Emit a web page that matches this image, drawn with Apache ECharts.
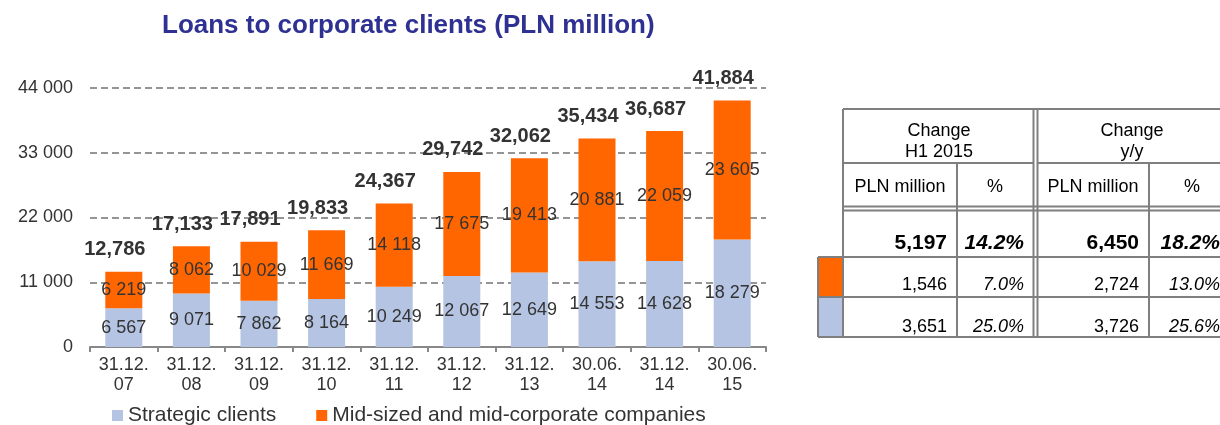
<!doctype html>
<html>
<head>
<meta charset="UTF-8">
<title>Loans to corporate clients</title>
<script src="https://cdn.jsdelivr.net/npm/echarts@6/dist/echarts.min.js"></script>
<style>
  html, body { margin: 0; padding: 0; background: #fff; overflow: hidden; }
  #chart { width: 1220px; height: 425px; }
</style>
</head>
<body>
<div id="chart"></div>
<script>
// chart data
var categories = ['31.12.\n07', '31.12.\n08', '31.12.\n09', '31.12.\n10', '31.12.\n11',
                  '31.12.\n12', '31.12.\n13', '30.06.\n14', '31.12.\n14', '30.06.\n15'];
var strategic = [6567, 9071, 7862, 8164, 10249, 12067, 12649, 14553, 14628, 18279];
var midCorp = [6219, 8062, 10029, 11669, 14118, 17675, 19413, 20881, 22059, 23605];
var totals = [12786, 17133, 17891, 19833, 24367, 29742, 32062, 35434, 36687, 41884];
var yTicks = [0, 11000, 22000, 33000, 44000];
var seriesNames = ['Strategic clients', 'Mid-sized and mid-corporate companies'];

// side table
var tableHead1 = ['Change\nH1 2015', 'Change\ny/y'];
var tableHead2 = ['PLN million', '%', 'PLN million', '%'];
var rowTotal = ['5,197', '14.2%', '6,450', '18.2%'];
var rowMid = ['1,546', '7.0%', '2,724', '13.0%'];
var rowStrategic = ['3,651', '25.0%', '3,726', '25.6%'];

var FONT = '"Liberation Sans", Arial, sans-serif';
var BLUE = '#b4c4e2';
var ORANGE = '#ff6600';
var GRID_LINE = '#7f7f7f';

function spaced(v) {
	return String(v).replace(/\B(?=(\d{3})+(?!\d))/g, ' ');
}
function commas(v) {
	return String(v).replace(/\B(?=(\d{3})+(?!\d))/g, ',');
}

// table layout
var colX = [843, 957, 1034, 1037, 1149, 1232]; // borders
var rowY = [109, 163, 207, 210, 257, 297, 337];
var valueRight = [947, 1024, 1139, 1220];

var g = [];
function hline(x1, x2, y) {
	g.push({ type: 'line', shape: { x1: x1, y1: y, x2: x2, y2: y }, style: { stroke: GRID_LINE, lineWidth: 2 } });
}
function vline(x, y1, y2) {
	g.push({ type: 'line', shape: { x1: x, y1: y1, x2: x, y2: y2 }, style: { stroke: GRID_LINE, lineWidth: 2 } });
}
function txt(x, y, s, align, size, weight, italic) {
	g.push({
		type: 'text', x: x, y: y,
		style: {
			text: s, fill: '#000', font: (italic ? 'italic ' : '') + (weight || 'normal') + ' ' + size + 'px ' + FONT,
			align: align, verticalAlign: 'middle', lineHeight: 21
		}
	});
}

// colour patches
g.push({ type: 'rect', shape: { x: 818, y: 257, width: 25, height: 40 }, style: { fill: ORANGE } });
g.push({ type: 'rect', shape: { x: 818, y: 297, width: 25, height: 40 }, style: { fill: BLUE } });

hline(843, 1232, 109);
hline(843, 1034, 163);
hline(1037, 1232, 163);
hline(843, 1232, 206.5);
hline(843, 1232, 210.5);
hline(818, 1232, 257);
hline(818, 1232, 297);
hline(818, 1232, 337);
vline(843, 109, 337);
vline(1033.5, 109, 337);
vline(1037.5, 109, 337);
vline(957, 163, 337);
vline(1149, 163, 337);
vline(818, 257, 337);

txt(939, 142, tableHead1[0], 'center', 18);
txt(1132, 142, tableHead1[1], 'center', 18);
txt(900, 187, tableHead2[0], 'center', 18);
txt(995, 187, tableHead2[1], 'center', 18);
txt(1093, 187, tableHead2[2], 'center', 18);
txt(1192, 187, tableHead2[3], 'center', 18);
for (var i = 0; i < 4; i++) {
	var pct = i % 2 === 1;
	txt(valueRight[i], 243, rowTotal[i], 'right', 21, 'bold', pct);
	txt(valueRight[i], 285, rowMid[i], 'right', 18, 'normal', pct);
	txt(valueRight[i], 327, rowStrategic[i], 'right', 18, 'normal', pct);
}

var insideLabel = {
	show: true,
	position: 'inside',
	color: '#333',
	fontSize: 18,
	fontFamily: FONT,
	formatter: function(p) { return spaced(p.value); }
};

var option = {
	animation: false,
	textStyle: { fontFamily: FONT },
	title: {
		text: 'Loans to corporate clients (PLN million)',
		left: 157,
		top: 8,
		textStyle: { color: '#2e3192', fontSize: 26, fontWeight: 'bold', fontFamily: FONT }
	},
	legend: {
		data: seriesNames,
		left: 112,
		top: 405,
		padding: 0,
		itemWidth: 11,
		itemHeight: 11,
		itemGap: 40,
		icon: 'rect',
		textStyle: { fontSize: 21, color: '#333', fontFamily: FONT }
	},
	grid: {
		left: 90,
		right: 454,
		top: 88,
		bottom: 78,
		outerBoundsMode: 'none'
	},
	xAxis: {
		type: 'category',
		data: categories,
		axisLine: { lineStyle: { color: '#888', width: 2 } },
		axisTick: { show: true, length: 5, lineStyle: { color: '#888', width: 2 } },
		axisLabel: { color: '#333', fontSize: 18, lineHeight: 20, margin: 8, fontFamily: FONT }
	},
	yAxis: {
		type: 'value',
		min: yTicks[0],
		max: yTicks[yTicks.length - 1],
		interval: yTicks[1] - yTicks[0],
		axisLine: { show: false },
		axisTick: { show: false },
		axisLabel: { color: '#333', fontSize: 18, margin: 17, fontFamily: FONT, formatter: spaced },
		splitLine: { lineStyle: { color: '#959595', width: 2, type: [7, 4] } }
	},
	series: [{
		name: seriesNames[0],
		type: 'bar',
		stack: 'loans',
		barWidth: 37,
		itemStyle: { color: BLUE },
		label: insideLabel,
		data: strategic
	}, {
		name: seriesNames[1],
		type: 'bar',
		stack: 'loans',
		barWidth: 37,
		itemStyle: { color: ORANGE },
		label: insideLabel,
		data: midCorp
	}, {
		name: 'Total',
		type: 'line',
		silent: true,
		symbol: 'circle',
		symbolSize: 0.1,
		lineStyle: { width: 0, opacity: 0 },
		itemStyle: { color: 'transparent' },
		label: {
			show: true,
			position: 'top',
			distance: 12,
			offset: [-9, 0],
			color: '#333',
			fontSize: 20,
			fontWeight: 'bold',
			fontFamily: FONT,
			formatter: function(p) { return commas(p.value); }
		},
		data: totals
	}],
	graphic: g
};

var chart = echarts.init(document.getElementById('chart'));
chart.setOption(option);
</script>
</body>
</html>
